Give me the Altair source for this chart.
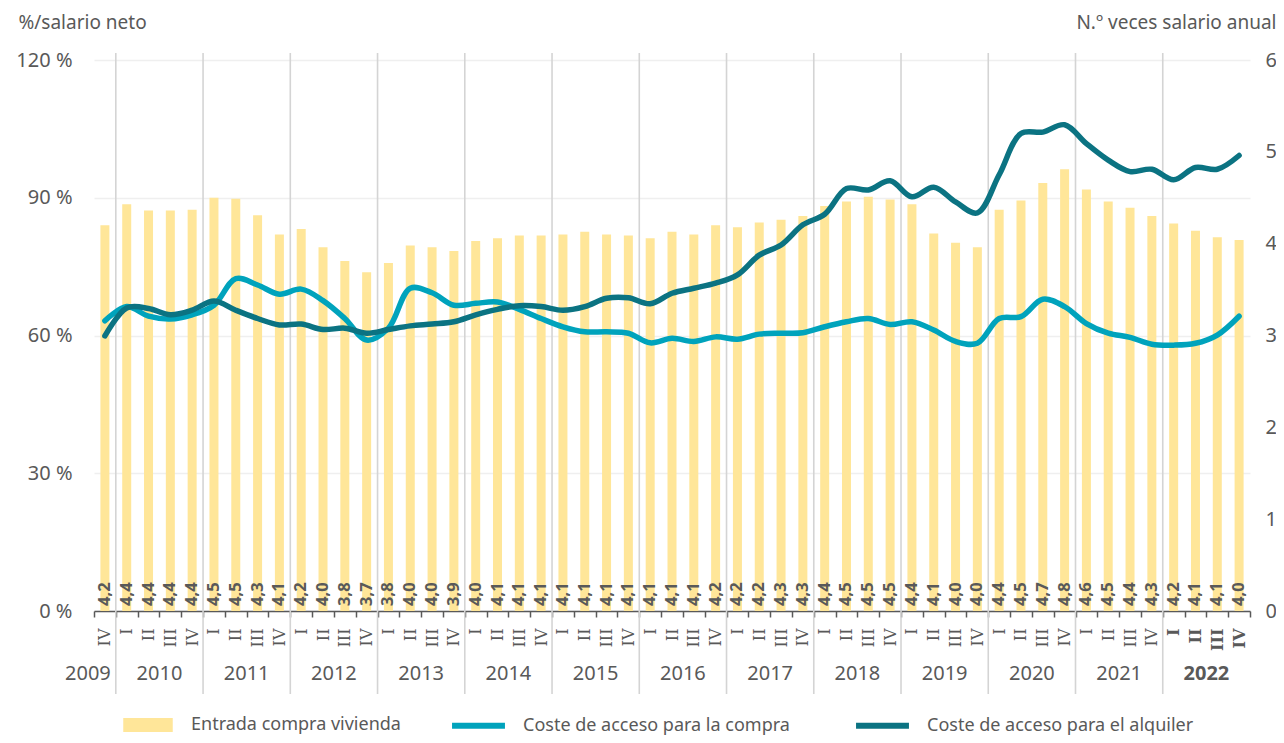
import altair as alt
import pandas as pd

# ---------------- data ----------------
anios = ["2009"] + [str(y) for y in range(2010, 2023) for _ in range(4)]
trimestres = ["IV"] + ["I", "II", "III", "IV"] * 13

# Entrada compra vivienda (N.º veces salario anual) - right axis
entrada = [4.20, 4.43, 4.36, 4.36, 4.37, 4.50, 4.49, 4.31, 4.10, 4.16,
           3.96, 3.81, 3.69, 3.79, 3.98, 3.96, 3.92, 4.03, 4.06, 4.09,
           4.09, 4.10, 4.13, 4.10, 4.09, 4.06, 4.13, 4.10, 4.20, 4.18,
           4.23, 4.26, 4.30, 4.41, 4.46, 4.51, 4.48, 4.43, 4.11, 4.01,
           3.96, 4.37, 4.47, 4.66, 4.81, 4.59, 4.46, 4.39, 4.30, 4.22,
           4.14, 4.07, 4.04]
etiquetas = ["4,2", "4,4", "4,4", "4,4", "4,4", "4,5", "4,5", "4,3", "4,1", "4,2",
             "4,0", "3,8", "3,7", "3,8", "4,0", "4,0", "3,9", "4,0", "4,1", "4,1",
             "4,1", "4,1", "4,1", "4,1", "4,1", "4,1", "4,1", "4,1", "4,2", "4,2",
             "4,2", "4,3", "4,3", "4,4", "4,5", "4,5", "4,5", "4,4", "4,1", "4,0",
             "4,0", "4,4", "4,5", "4,7", "4,8", "4,6", "4,5", "4,4", "4,3", "4,2",
             "4,1", "4,1", "4,0"]
# Coste de acceso (%/salario neto) - left axis
compra = [63.2, 66.3, 64.2, 63.6, 64.5, 66.6, 72.4, 71.0, 69.0, 70.1,
          67.6, 63.7, 59.0, 61.6, 70.3, 69.3, 66.6, 67.0, 67.3, 65.7,
          63.7, 61.9, 60.8, 60.8, 60.5, 58.4, 59.4, 58.7, 59.7, 59.2,
          60.3, 60.5, 60.6, 61.9, 63.0, 63.7, 62.4, 63.0, 61.2, 58.7,
          58.3, 63.7, 64.1, 67.9, 66.3, 62.6, 60.5, 59.6, 58.1, 57.9,
          58.3, 60.1, 64.2]
alquiler = [59.9, 66.0, 65.9, 64.5, 65.5, 67.5, 65.5, 63.7, 62.3, 62.5,
            61.3, 61.6, 60.5, 61.3, 62.1, 62.5, 63.0, 64.5, 65.7, 66.5,
            66.3, 65.5, 66.3, 68.1, 68.2, 66.9, 69.2, 70.3, 71.4, 73.2,
            77.5, 79.7, 84.1, 86.4, 92.0, 91.7, 93.7, 90.2, 92.3, 89.1,
            86.7, 95.0, 104.0, 104.3, 105.9, 101.8, 98.2, 95.7, 96.2, 93.9,
            96.6, 96.2, 99.2]

serie_barras = "Entrada compra vivienda"
serie_compra = "Coste de acceso para la compra"
serie_alquiler = "Coste de acceso para el alquiler"

# ---------------- tables ----------------
periodos = [f"{a}-{t}" for a, t in zip(anios, trimestres)]
df = pd.DataFrame({
    "periodo": periodos, "anio": anios, "trim": trimestres,
    "entrada": entrada, "etiqueta": etiquetas, "serie_b": serie_barras,
})
df_l = pd.concat([
    pd.DataFrame({"periodo": periodos, "valor": compra, "serie_l": serie_compra}),
    pd.DataFrame({"periodo": periodos, "valor": alquiler, "serie_l": serie_alquiler}),
], ignore_index=True)
df_sep = df[df["trim"] == "I"][["periodo"]].reset_index(drop=True)
years_unique = sorted(set(anios))
df_y = pd.DataFrame({
    "anio": years_unique,
    "ancla": [f"{y}-IV" if y == "2009" else f"{y}-II" for y in years_unique],
})

GRAY = "#595959"
FONT = "Noto Sans"

x_axis = alt.Axis(
    title=None,
    labelExpr="isString(datum.value) ? split(datum.value, '-')[1] : ''",
    labelAngle=270,
    labelFont="DejaVu Serif", labelFontSize=16, labelColor=GRAY,
    labelFontWeight={"condition": {"test": "isString(datum.value) && indexof(datum.value, '2022') == 0",
                                   "value": "bold"}, "value": "normal"},
    labelPadding=11, tickBand="extent", tickSize=6, tickColor=GRAY, tickWidth=1.5,
    domainColor=GRAY, domainWidth=1.5, grid=False,
)
x_scale = alt.Scale(domain=periodos, paddingInner=0, paddingOuter=0)


def X(field="periodo", **kw):
    return alt.X(f"{field}:N", sort=periodos, scale=x_scale, axis=x_axis, **kw)


base = alt.Chart(df)

bars = base.mark_bar(size=9).encode(
    x=X(),
    y=alt.Y("entrada:Q", scale=alt.Scale(domain=[0, 6]),
            axis=alt.Axis(orient="right", values=[0, 1, 2, 3, 4, 5, 6], grid=False, domain=False,
                          ticks=False, labelFontSize=20, labelColor=GRAY, labelPadding=15,
                          title="N.º veces salario anual", titleAngle=0, titleAlign="right",
                          titleBaseline="middle", titleX=26, titleY=-38, titleFontSize=19,
                          titleFontWeight="normal", titleColor=GRAY)),
    fill=alt.Fill("serie_b:N", scale=alt.Scale(domain=[serie_barras], range=["#FFE699"]),
                  legend=alt.Legend(orient="none", legendX=29, legendY=640, direction="horizontal",
                                    title=None, symbolType="M-1,-0.28L1,-0.28L1,0.28L-1,0.28Z",
                                    symbolSize=2450, symbolStrokeWidth=0, labelFontSize=18,
                                    labelColor=GRAY, labelOffset=18, labelLimit=400,
                                    labelBaseline="middle")),
)

seps = alt.Chart(df_sep).mark_rule(color="#d4d4d4", strokeWidth=1.6).encode(
    x=X(bandPosition=0),
    y=alt.value(-7),
    y2=alt.value(634),
)

bar_labels = base.mark_text(angle=270, align="left", baseline="middle", fontSize=16.5,
                            fontWeight="bold", color=GRAY, font=FONT).encode(
    x=X(),
    y=alt.value(546),
    text="etiqueta:N",
)

year_normal = alt.Chart(df_y).transform_filter(
    "datum.anio != '2009' && datum.anio != '2022'"
).mark_text(fontSize=20, color=GRAY, baseline="middle", font=FONT).encode(
    x=X("ancla", bandPosition=1),
    y=alt.value(614),
    text="anio:N",
)
year_first = alt.Chart(df_y).transform_filter("datum.anio == '2009'").mark_text(
    fontSize=20, color=GRAY, baseline="middle", align="right", dx=-5, font=FONT).encode(
    x=X("ancla", bandPosition=1),
    y=alt.value(614),
    text="anio:N",
)
year_last = alt.Chart(df_y).transform_filter("datum.anio == '2022'").mark_text(
    fontSize=20, color=GRAY, baseline="middle", font=FONT, fontWeight="bold").encode(
    x=X("ancla", bandPosition=1),
    y=alt.value(614),
    text="anio:N",
)

lines = alt.Chart(df_l).mark_line(interpolate="catmull-rom", strokeWidth=5.5, strokeCap="round").encode(
    x=X(),
    y=alt.Y("valor:Q", scale=alt.Scale(domain=[0, 120]),
            axis=alt.Axis(orient="left", values=[0, 30, 60, 90, 120], labelExpr="datum.value + ' %'",
                          grid=True, gridColor="#efefef", gridWidth=1.5, domain=False, ticks=False,
                          labelFontSize=20, labelColor=GRAY, labelPadding=22,
                          title="%/salario neto", titleAngle=0, titleAlign="left",
                          titleBaseline="middle", titleX=-76, titleY=-38, titleFontSize=19,
                          titleFontWeight="normal", titleColor=GRAY)),
    stroke=alt.Stroke("serie_l:N", scale=alt.Scale(domain=[serie_compra, serie_alquiler],
                                                   range=["#00A3BC", "#0B7382"]),
                      legend=alt.Legend(orient="none", legendX=355, legendY=636, direction="horizontal",
                                        title=None, symbolType="stroke", symbolSize=2800,
                                        symbolStrokeWidth=6, labelFontSize=18, labelColor=GRAY,
                                        labelOffset=15, columnPadding=54, labelLimit=400,
                                        labelBaseline="middle")),
)

chart = alt.layer(bars, seps, bar_labels, year_normal, year_first, year_last, lines).resolve_scale(
    y="independent"
).properties(
    width=1156, height=551,
    autosize=alt.AutoSizeParams(type="none"),
    padding={"left": 86, "top": 52, "right": 26, "bottom": 124},
    background="white",
).configure(font=FONT).configure_view(stroke=None).configure_legend(padding=0)

chart.save("out.html", embed_options={"renderer": "svg", "actions": False})
